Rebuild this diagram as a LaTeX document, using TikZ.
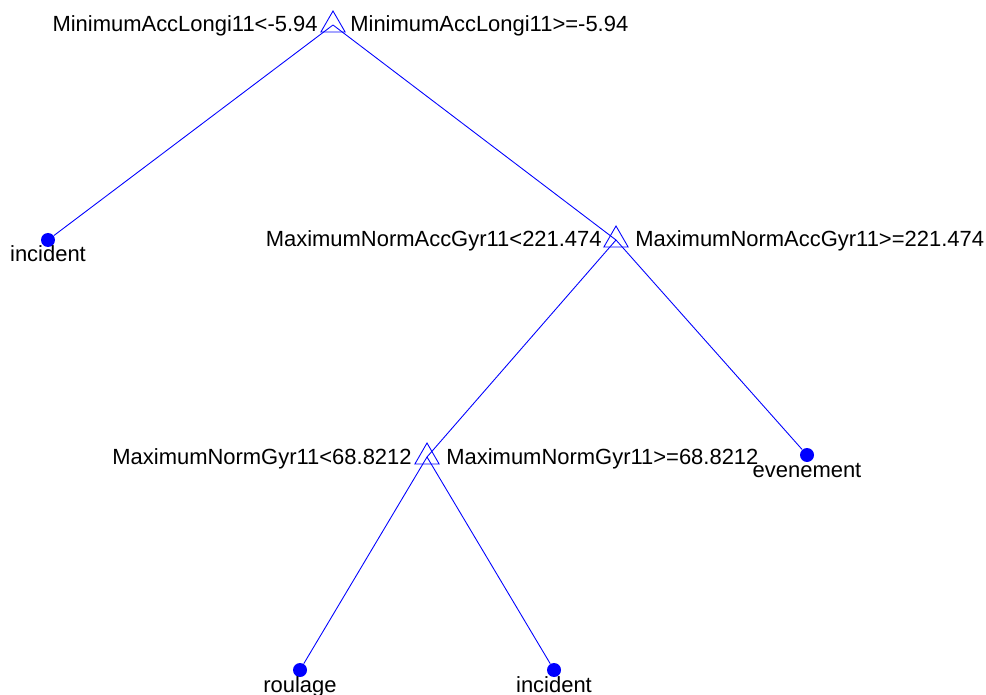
\documentclass[tikz,border=0pt]{standalone}
\usepackage{fontspec}
\setmainfont{Liberation Sans}
\usetikzlibrary{shapes.geometric}

\tikzset{
  split/.style={draw=blue, regular polygon, regular polygon sides=3, minimum size=0.56cm, inner sep=0pt, line width=0.5pt},
  leaf/.style={circle, fill=blue, minimum size=0.28cm, inner sep=0pt},
  condl/.style={anchor=base east, inner sep=0pt, font=\fontsize{12.5}{14}\selectfont},
  condr/.style={anchor=base west, inner sep=0pt, font=\fontsize{12.5}{14}\selectfont},
  cls/.style={anchor=base, inner sep=0pt, font=\fontsize{12.5}{14}\selectfont},
  edge/.style={draw=blue, line width=0.5pt}
}

\begin{document}
\begin{tikzpicture}[x=0.02cm, y=-0.02cm]
        \useasboundingbox (0,0) rectangle (986,695);

        \node[split] (S1) at (333,25) {};
        \node[split] (S2) at (616,240) {};
        \node[split] (S3) at (427,457) {};
        \node[leaf] (L1) at (48,240) {};
        \node[leaf] (L2) at (807,455) {};
        \node[leaf] (L3) at (300,670) {};
        \node[leaf] (L4) at (554,670) {};

        \node[condl] (S1a) at (318,32) {MinimumAccLongi11<-5.94};
        \node[condr] (S1b) at (350,32) {MinimumAccLongi11>=-5.94};
        \node[condl] (S2a) at (602,247) {MaximumNormAccGyr11<221.474};
        \node[condr] (S2b) at (635,247) {MaximumNormAccGyr11>=221.474};
        \node[condl] (S3a) at (412,464) {MaximumNormGyr11<68.8212};
        \node[condr] (S3b) at (446,464) {MaximumNormGyr11>=68.8212};

        \node[cls] (L1t) at (48,262) {incident};
        \node[cls] (L2t) at (807,477) {evenement};
        \node[cls] (L3t) at (300,692) {roulage};
        \node[cls] (L4t) at (554,692) {incident};

        \draw[edge] (S1.center) -- (L1);
        \draw[edge] (S1.center) -- (S2.center);
        \draw[edge] (S2.center) -- (S3.center);
        \draw[edge] (S2.center) -- (L2);
        \draw[edge] (S3.center) -- (L3);
        \draw[edge] (S3.center) -- (L4);
    \end{tikzpicture}
\end{document}
